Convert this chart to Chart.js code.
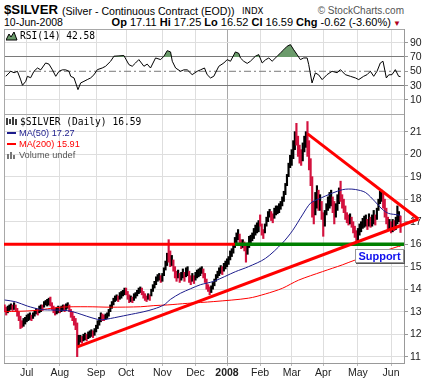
<!DOCTYPE html>
<html lang="en">
<head>
<meta charset="UTF-8">
<title>$SILVER daily</title>
<script src="https://cdn.jsdelivr.net/npm/chart.js"></script>
<style>
  body { margin: 0; background: #fff; }
  #page { position: relative; width: 429px; height: 380px; overflow: hidden; font-family: 'Liberation Sans', Arial, sans-serif; color: #000; }
  .t { position: absolute; white-space: nowrap; line-height: 1; }
  canvas { position: absolute; left: 0; }
  .mono { font-family: 'DejaVu Sans Mono', monospace; font-size: 9.6px; }
  .ma { font-size: 9.2px; }
  #support { position: absolute; left: 355px; top: 249px; width: 47px; height: 12px; border: 1px solid #999; box-shadow: 1px 1px 0 #555; background: #fff;
             font: bold 11px 'Liberation Sans', Arial, sans-serif; color: #1010ee; text-align: center; line-height: 12px; }
</style>
</head>
<body>
<div id="page">
  <div class="t" style="left:4px;top:3px;font-weight:bold;font-size:13.2px">$SILVER</div>
  <div class="t" style="left:62px;top:5.5px;font-size:10.6px">(Silver - Continuous Contract (EOD))</div>
  <div class="t" style="left:242px;top:7px;font-size:8.6px;font-family:'DejaVu Sans'">INDX</div>
  <div class="t" style="right:25px;top:5.5px;font-size:10px;color:#555">© StockCharts.com</div>
  <div class="t" style="left:4px;top:17px;font-size:10.5px">10-Jun-2008</div>
  <div class="t" style="right:28px;top:16.5px;font-size:11px"><b>Op</b> 17.11 <b>Hi</b> 17.25 <b>Lo</b> 16.52 <b>Cl</b> 16.59 <b>Chg</b> -0.62 (-3.60%)<span style="color:#b00020;font-size:8px"> ▼</span></div>

  <canvas id="rsiChart" width="429" height="87" style="top:28px"></canvas>
  <canvas id="priceChart" width="429" height="265" style="top:115px"></canvas>

  <svg class="t" style="left:6px;top:31px" width="12" height="10"><path d="M0 9 L3 3 L5 6 L8 1 L11 9 Z" fill="#6a9a6a" stroke="#000" stroke-width="1"/></svg>
  <div class="t mono" style="left:20px;top:30.5px">RSI(14) 42.58</div>

  <svg class="t" style="left:6px;top:117px" width="12" height="9"><path d="M1 1 V8 M4 2 V7 M7 0 V8 M10 2 V8" stroke="#000" stroke-width="1.5"/></svg>
  <div class="t mono" style="left:20px;top:117px">$SILVER (Daily) 16.59</div>
  <div class="t" style="left:7px;top:131.5px;width:9px;height:2px;background:#1c1c8c"></div>
  <div class="t ma" style="left:19px;top:128.5px;color:#1c1c8c">MA(50) 17.27</div>
  <div class="t" style="left:7px;top:143px;width:9px;height:2px;background:#ff0000"></div>
  <div class="t ma" style="left:19px;top:140px;color:#ff0000">MA(200) 15.91</div>
  <svg class="t" style="left:7px;top:151px" width="10" height="8"><path d="M1 8 V3 M4 8 V1 M7 8 V4" stroke="#777" stroke-width="2"/></svg>
  <div class="t ma" style="left:19px;top:151px;color:#555">Volume undef</div>

  <div id="support">Support</div>
</div>
<script>
// trading-day index of the first session of each month, and its label
const monthIdx = [14, 35, 58, 77, 100, 121, 141, 162, 182, 202, 224, 245];
const monthLbl = ['Jul', 'Aug', 'Sep', 'Oct', 'Nov', 'Dec', '2008', 'Feb', 'Mar', 'Apr', 'May', 'Jun'];
const yearIdx = 141;

// daily bars, 12-Jun-2007 .. 10-Jun-2008
const lo = [
  13.0,12.85,12.95,13.05,13.1,13.05,13.1,13.0,12.8,12.6,
  12.25,12.3,12.35,12.45,12.55,12.6,12.65,12.6,12.7,12.8,
  12.9,12.85,12.95,13.0,13.05,13.2,13.3,13.25,13.3,13.25,
  13.1,12.95,12.85,12.9,12.95,12.95,13.0,13.05,13.0,13.1,
  13.15,13.0,12.75,12.6,12.4,12.2,11.0,11.5,11.65,11.6,
  11.7,11.75,11.7,11.8,11.85,11.9,11.85,11.95,12.1,12.25,
  12.4,12.55,12.6,12.6,12.65,12.7,12.8,13.0,13.15,13.3,
  13.45,13.5,13.45,13.55,13.6,13.7,13.75,13.75,13.55,13.4,
  13.45,13.4,13.5,13.6,13.7,13.8,13.85,13.75,13.6,13.5,
  13.45,13.55,13.5,13.7,13.9,14.05,14.2,14.35,14.4,14.3,
  14.35,14.6,14.85,15.05,15.2,15.0,15.05,14.8,14.5,14.35,
  14.5,14.3,14.4,14.5,14.35,14.55,14.6,14.3,14.2,14.35,
  14.25,14.4,14.5,14.55,14.6,14.7,14.5,14.3,14.0,13.9,
  13.75,13.85,14.0,14.15,14.35,14.5,14.6,14.7,14.65,14.8,
  14.9,15.0,15.1,15.3,15.45,15.6,15.85,16.05,16.2,15.95,
  15.8,15.85,15.7,15.2,15.55,15.85,16.0,16.15,16.25,16.4,
  16.5,16.55,16.8,16.4,16.25,16.5,16.8,17.0,17.2,17.05,
  16.95,17.15,17.3,17.35,17.4,17.55,17.7,17.9,18.2,18.6,
  19.0,19.4,19.5,19.8,20.2,20.4,19.9,19.6,19.5,19.7,
  20.1,20.3,19.9,19.3,18.6,17.2,16.9,17.3,17.6,17.5,
  17.5,17.1,16.35,16.8,17.3,17.5,17.6,17.7,17.4,16.9,
  17.2,17.5,17.8,17.9,17.6,17.4,17.1,16.95,16.85,16.9,
  16.75,16.5,16.3,16.05,16.1,16.4,16.55,16.7,16.75,16.8,
  16.65,16.8,16.75,16.8,16.9,16.85,17.1,17.5,17.8,17.9,
  17.6,17.2,16.9,16.6,16.6,16.5,16.55,16.6,16.65,16.9,
  17.0,16.52
];
const hi = [
  13.3,13.2,13.25,13.3,13.35,13.3,13.4,13.3,13.15,13.0,
  12.8,12.6,12.7,12.75,12.85,12.9,12.95,12.85,12.95,13.05,
  13.15,13.1,13.25,13.3,13.3,13.45,13.5,13.55,13.6,13.65,
  13.4,13.25,13.15,13.2,13.25,13.2,13.25,13.3,13.3,13.35,
  13.4,13.3,13.1,13.0,12.8,12.7,12.5,11.95,11.95,11.9,
  12.0,12.05,12.0,12.1,12.15,12.2,12.15,12.25,12.4,12.6,
  12.75,12.95,12.9,12.85,12.9,12.95,13.1,13.3,13.45,13.6,
  13.7,13.75,13.7,13.85,13.9,13.95,14.05,14.05,13.9,13.75,
  13.7,13.65,13.8,13.85,13.95,14.05,14.1,14.05,13.9,13.8,
  13.7,13.8,13.75,14.0,14.2,14.35,14.55,14.65,14.7,14.6,
  14.7,14.95,15.25,15.6,16.2,15.7,15.5,15.3,15.0,14.8,
  14.85,14.7,14.75,14.9,14.75,14.95,15.0,14.8,14.6,14.7,
  14.6,14.75,14.85,14.9,14.95,15.0,14.9,14.7,14.45,14.2,
  14.1,14.15,14.3,14.45,14.65,14.8,14.95,15.05,15.0,15.15,
  15.25,15.35,15.45,15.7,15.8,16.0,16.3,16.5,16.65,16.45,
  16.2,16.2,16.1,16.0,16.05,16.35,16.4,16.5,16.7,16.85,
  16.95,17.05,17.3,16.9,16.65,16.9,17.2,17.45,17.55,17.45,
  17.35,17.6,17.7,17.7,17.8,17.9,18.1,18.35,18.7,19.1,
  19.6,19.95,20.2,20.6,21.0,21.37,20.8,20.4,20.2,20.5,
  20.8,21.0,21.45,20.6,19.8,19.0,17.9,18.3,18.6,18.4,
  18.2,17.9,17.4,17.5,17.8,18.1,18.3,18.4,18.1,17.9,
  17.8,18.2,18.5,18.8,18.2,18.0,17.7,17.4,17.3,17.35,
  17.2,17.0,16.8,16.6,16.7,16.9,17.0,17.15,17.25,17.3,
  17.1,17.35,17.2,17.3,17.5,17.3,17.6,18.0,18.35,18.4,
  18.3,18.0,17.6,17.2,17.1,17.0,17.1,17.05,17.2,17.7,
  17.45,17.25
];
// 1 = closed up (black), 0 = closed down (red)
const dir = [
  0,0,1,1,1,0,1,0,0,0, 0,0,1,1,1,1,1,0,1,1, 1,0,1,1,0,1,1,1,1,0, 0,0,0,1,1,0,1,1,0,1,
  1,0,0,0,0,0,0,1,1,0, 1,1,0,1,1,1,0,1,1,1, 1,1,0,0,1,1,1,1,1,1, 1,1,0,1,1,1,1,0,0,0,
  1,0,1,1,1,1,1,0,0,0, 0,1,0,1,1,1,1,1,1,0, 1,1,1,1,0,0,1,0,0,0, 1,0,1,1,0,1,1,0,0,1,
  0,1,1,1,1,1,0,0,0,0, 0,1,1,1,1,1,1,1,0,1, 1,1,1,1,1,1,1,1,1,0, 0,1,0,0,1,1,1,1,1,1,
  1,1,0,0,0,1,1,1,1,0, 0,1,1,1,1,1,1,1,1,1, 1,1,1,1,1,0,0,0,0,1, 1,1,0,0,0,0,0,1,1,0,
  1,0,0,1,1,1,1,1,0,0, 1,1,1,0,0,0,0,0,0,1, 0,0,0,0,1,1,1,1,1,1, 0,1,0,1,1,0,1,1,1,1,
  0,0,0,0,1,0,1,0,1,1, 1,0
];

// moving averages, read at sample sessions
const ma50Idx = [0, 7, 14.4, 22.9, 31.3, 39.8, 46, 52, 58.8, 62, 67.2, 77.8, 88.3, 94.6, 101, 105.2, 111.5, 117.9, 124.2, 132.6, 146.4, 154.6, 165.4, 176.1, 182.5, 188.8, 193.9, 198.9, 207.8, 214.1, 217.9, 222.4, 228.7, 235, 239.4, 243.3, 249.6, 251];
const ma50Val = [13.52, 13.44, 13.25, 13.1, 13.07, 13.05, 12.94, 12.8, 12.66, 12.64, 12.7, 12.85, 13.0, 13.12, 13.3, 13.55, 13.82, 14.02, 14.2, 14.35, 14.78, 15.0, 15.37, 16.05, 16.6, 17.3, 17.82, 18.0, 18.27, 18.42, 18.45, 18.43, 18.3, 17.88, 17.55, 17.37, 17.3, 17.27];
const ma200Idx = [0, 18.6, 35.5, 52.4, 67.2, 86.2, 94.6, 103.1, 115.8, 132.6, 154.6, 165.4, 176.1, 186.3, 201.5, 214.1, 222.4, 233.1, 249.6, 251];
const ma200Val = [13.0, 13.05, 13.2, 13.22, 13.2, 13.22, 13.27, 13.3, 13.37, 13.45, 13.6, 13.79, 14.04, 14.4, 14.78, 15.08, 15.3, 15.52, 15.9, 15.91];

// RSI(14)
const rsiIdx = [0.7, 3.9, 6, 8.1, 10.2, 11.3, 13.4, 14.4, 16.5, 18.6, 20.8, 22.9, 26, 28.1, 30.3, 32.4, 34.5, 36.6, 38.7, 40.8, 41.9, 44, 46.5, 48.2, 50.3, 52.4, 54.5, 56.6, 58.8, 61.9, 64, 67.2, 69.3, 72.5, 75.6, 78.8, 80.9, 83, 85.1, 88.3, 90.4, 92.5, 95.7, 98.9, 101, 103.1, 105.2, 106.3, 108.4, 111.5, 113.6, 115.8, 118.9, 122.1, 124.2, 126.7, 128.4, 130.5, 132.6, 135.8, 139, 141.1, 143.2, 146.3, 148.5, 149.5, 151.6, 153.8, 155.8, 159, 161.1, 163.3, 165.4, 167.5, 169.6, 172.8, 174.9, 176.9, 179.1, 181.2, 183.3, 185.4, 187.5, 189.6, 191.8, 192.8, 194.9, 197, 199.1, 201.3, 204.4, 207.6, 210.8, 212.9, 216, 219.2, 222.4, 224.5, 227.6, 229.8, 231.9, 234, 236.1, 238.2, 239.9, 242, 243.5, 245.6, 247.7, 249.8, 251];
const rsiVal = [43, 50, 48, 50, 38, 30.5, 36, 43, 41, 50, 54.6, 52, 61.6, 60, 52, 43, 50, 52, 52, 50, 43, 40.7, 24.4, 33.7, 36, 38.4, 40.7, 45, 52.3, 54.6, 57, 64, 71, 71.5, 72, 59.3, 57, 61.6, 66.3, 57, 60, 54.6, 68.6, 66.3, 71, 78.8, 77, 64, 54.6, 50, 52, 52, 45.3, 50, 52, 54.6, 45.3, 40.7, 43, 57, 61.6, 66.3, 64, 77, 75, 68.6, 64, 61, 64, 71, 73.3, 61.6, 66, 68.6, 64, 71, 75.6, 80, 84.9, 87.2, 80, 73.3, 66.3, 68.6, 68.6, 59.3, 33.7, 47.7, 45, 38.4, 45.3, 50, 48, 52.3, 45.3, 43, 40.7, 38.4, 43, 45.3, 50, 43, 50, 61.6, 64, 40.7, 45, 45.3, 52.3, 43, 42.58];
const rsiTicks = [10, 30, 50, 70, 90];
const rsiMid = 50;

// price axis and drawn annotations
const priceTicks = [11, 12, 13, 14, 15, 16, 17, 18, 19, 20, 21];
const supportLvl = 16;
const supportSwitch = 146;      // red resistance becomes green support here
const riseIdx = [46.1, 262.3], riseVal = [11.44, 17.12];
const fallIdx = [192.1, 262.3], fallVal = [20.9, 17.12];

const xMin = -0.4, xMax = 253.2;
const FONT = "'Liberation Sans', Arial, sans-serif";
const pts = (xs, ys) => xs.map((x, k) => ({ x: x, y: ys[k] }));

const frame = sides => ({
  id: 'frame',
  beforeDatasetsDraw(c) {
    const a = c.chartArea, g = c.ctx;
    g.save();
    g.strokeStyle = '#a8a8a8';
    g.lineWidth = 1;
    g.beginPath();
    if (sides.includes('l')) { g.moveTo(a.left + 0.5, a.top); g.lineTo(a.left + 0.5, a.bottom); }
    if (sides.includes('t')) { g.moveTo(a.left, a.top + 0.5); g.lineTo(a.right, a.top + 0.5); }
    if (sides.includes('b')) { g.moveTo(a.left, a.bottom - 0.5); g.lineTo(a.right, a.bottom - 0.5); }
    g.stroke();
    g.restore();
  }
});

const monthGrid = ctx => (ctx.tick && ctx.tick.value === yearIdx) ? '#a9a9a9' : '#dedede';
const xMonths = s => { s.ticks = monthIdx.map(v => ({ value: v })); };

// RSI panel
new Chart(document.getElementById('rsiChart'), {
  type: 'line',
  data: {
    datasets: [
      {
        data: pts(rsiIdx, rsiVal),
        borderColor: '#000', borderWidth: 1, pointRadius: 0, tension: 0,
        fill: { target: { value: 70 }, above: '#6b9b6b', below: 'rgba(0,0,0,0)' }
      },
      {
        data: [{ x: xMin, y: rsiMid }, { x: xMax, y: rsiMid }],
        borderColor: '#7a7a7a', borderWidth: 1, borderDash: [7, 3, 2, 3], pointRadius: 0, fill: false
      }
    ]
  },
  options: {
    responsive: false, animation: false, events: [],
    layout: { padding: { left: 4, top: 1, right: 0, bottom: 0 } },
    plugins: { legend: { display: false }, tooltip: { enabled: false } },
    scales: {
      x: {
        type: 'linear', min: xMin, max: xMax,
        afterBuildTicks: xMonths,
        ticks: { display: false },
        grid: { color: monthGrid, drawTicks: false },
        border: { display: false },
        afterFit: s => { s.height = 0; s.paddingLeft = 0; s.paddingRight = 0; }
      },
      y: {
        position: 'right', min: -11, max: 109,
        afterBuildTicks: s => { s.ticks = rsiTicks.map(v => ({ value: v })); },
        ticks: { color: '#222', padding: 2, font: { family: FONT, size: 10.5 } },
        grid: {
          color: ctx => (ctx.tick.value === 30 || ctx.tick.value === 70) ? '#7a7a7a' : (ctx.tick.value === rsiMid ? 'rgba(0,0,0,0)' : '#dedede'),
          tickColor: '#999', tickLength: 4
        },
        border: { color: '#999' },
        afterFit: s => { s.width = 25; s.paddingTop = 0; s.paddingBottom = 0; }
      }
    }
  },
  plugins: [frame('ltb')]
});

// price panel
new Chart(document.getElementById('priceChart'), {
  type: 'bar',
  data: {
    datasets: [
      {
        type: 'line', data: pts(riseIdx, riseVal), order: 0,
        borderColor: '#ff0000', borderWidth: 3, pointRadius: 0, clip: false
      },
      {
        type: 'line', data: pts(fallIdx, fallVal), order: 0,
        borderColor: '#ff0000', borderWidth: 3, pointRadius: 0, clip: false
      },
      {
        type: 'line', data: [{ x: xMin, y: supportLvl }, { x: supportSwitch, y: supportLvl }], order: 1,
        borderColor: '#ff0000', borderWidth: 3, pointRadius: 0
      },
      {
        type: 'line', data: [{ x: supportSwitch, y: supportLvl }, { x: xMax, y: supportLvl }], order: 1,
        borderColor: '#008000', borderWidth: 3.5, pointRadius: 0
      },
      {
        type: 'line', data: pts(ma50Idx, ma50Val), order: 2,
        borderColor: '#1c1c8c', borderWidth: 1, pointRadius: 0, tension: 0.3
      },
      {
        type: 'line', data: pts(ma200Idx, ma200Val), order: 2,
        borderColor: '#ff0000', borderWidth: 1, pointRadius: 0, tension: 0.3
      },
      {
        data: hi.map((h, i) => ({ x: i, y: [lo[i], h] })), order: 3,
        backgroundColor: dir.map(d => d ? '#000000' : '#d3123e'),
        barThickness: 1.5, borderWidth: 0, borderSkipped: false
      }
    ]
  },
  options: {
    responsive: false, animation: false, events: [],
    layout: { padding: { left: 4, top: 0, right: 0, bottom: 0 } },
    plugins: { legend: { display: false }, tooltip: { enabled: false } },
    scales: {
      x: {
        type: 'linear', min: xMin, max: xMax, offset: false,
        afterBuildTicks: xMonths,
        ticks: {
          autoSkip: false, maxRotation: 0, color: '#222', padding: 1,
          callback: v => monthLbl[monthIdx.indexOf(v)],
          font: ctx => ({ family: FONT, size: 10.5, weight: (ctx.tick && ctx.tick.value === yearIdx) ? 'bold' : 'normal' })
        },
        grid: { color: monthGrid, tickColor: '#bbb', tickLength: 3, offset: false },
        border: { color: '#999' },
        afterFit: s => { s.height = 17; s.paddingLeft = 0; s.paddingRight = 0; }
      },
      y: {
        position: 'right', min: 10.72, max: 21.74,
        afterBuildTicks: s => { s.ticks = priceTicks.map(v => ({ value: v })); },
        ticks: { color: '#222', padding: 2, font: { family: FONT, size: 10.5 } },
        grid: { color: '#dedede', tickColor: '#999', tickLength: 4 },
        border: { color: '#999' },
        afterFit: s => { s.width = 25; s.paddingTop = 0; s.paddingBottom = 0; }
      }
    }
  },
  plugins: [frame('l')]
});
</script>
</body>
</html>
